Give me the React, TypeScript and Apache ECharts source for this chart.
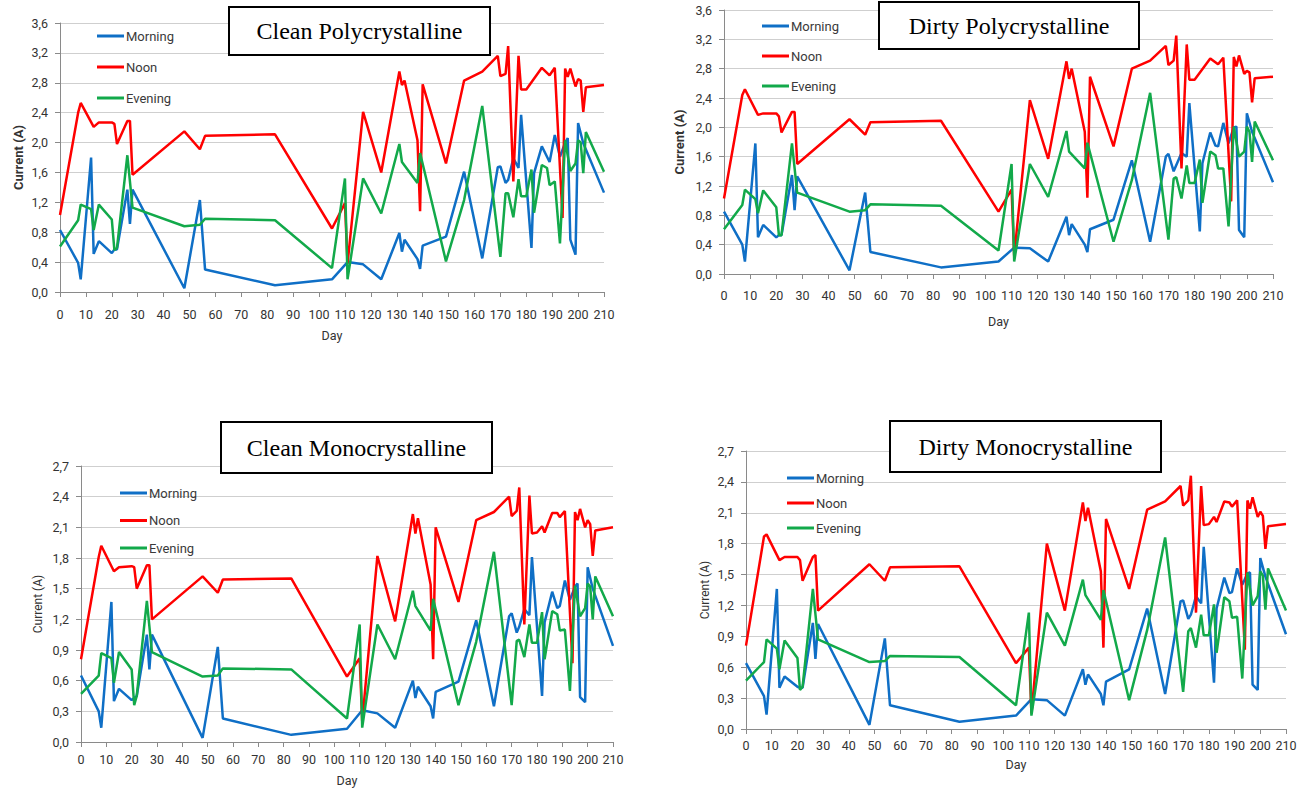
import React, { useEffect, useRef } from "react";
import * as echarts from "echarts";

const N = null;

const DAYS = [0, 7, 8, 12, 13, 15, 20, 21, 22, 26, 27, 28, 48, 54, 56, 83, 105, 110, 111, 117, 124, 131, 132, 133, 138, 139, 140, 149, 156, 163, 169, 170, 172, 173, 175, 177, 178, 180, 182, 183, 186, 188, 189, 191, 193, 194, 195, 196, 197, 199, 200, 201, 202, 203, 210];

const SERIES_NAMES = ["Morning", "Noon", "Evening"];

// Clean Polycrystalline
const cpMorning = [0.83, 0.39, 0.17, 1.80, 0.51, 0.68, 0.52, 0.57, 0.57, 1.37, 0.91, 1.37, 0.05, 1.23, 0.30, 0.09, 0.17, N, 0.40, 0.37, 0.17, 0.79, 0.54, 0.70, 0.44, 0.31, 0.62, 0.74, 1.61, 0.45, 1.67, 1.68, 1.46, 1.50, 1.79, 1.66, 2.37, N, 0.59, 1.59, 1.95, N, 1.74, 2.10, 1.81, N, 2.0, 2.06, 0.70, 0.50, 2.26, N, 1.99, N, 1.33];
const cpNoon = [1.03, 2.40, 2.53, N, 2.21, 2.27, 2.27, 2.25, 1.98, 2.29, 2.29, 1.57, 2.15, 1.91, 2.09, 2.11, 0.85, 1.19, 0.38, 2.41, 1.60, 2.95, 2.77, 2.83, 2.03, 1.08, 2.78, 1.72, 2.83, 2.95, 3.16, 2.89, 2.92, 3.29, 1.48, 3.16, 2.71, 2.71, N, N, 3.0, N, 2.9, 3.0, N, 0.99, 2.99, 2.88, 2.99, 2.75, 2.85, 2.83, 2.41, 2.74, 2.77];
const cpEvening = [0.61, 0.96, 1.17, 1.11, 0.83, 1.17, 0.97, 0.56, 0.59, 1.83, N, 1.13, 0.88, 0.90, 0.98, 0.96, 0.32, 1.52, 0.17, 1.52, 1.05, 1.98, 1.74, N, 1.46, 1.86, N, 0.41, 1.23, 2.49, N, 0.47, 1.32, 1.32, 1.0, 1.51, 1.28, 1.28, 1.64, 1.06, 1.70, 1.66, 1.43, 1.48, 0.65, N, 2.03, N, 1.62, 1.72, 2.03, 2.0, 1.59, 2.14, 1.61];

// Dirty Polycrystalline
const dpMorning = [0.85, 0.40, 0.17, 1.78, 0.50, 0.67, 0.50, 0.53, 0.53, 1.35, 0.87, 1.33, 0.05, 1.11, 0.30, 0.09, 0.17, N, 0.36, 0.35, 0.17, 0.78, 0.53, 0.68, 0.40, 0.30, 0.61, 0.74, 1.55, 0.44, 1.60, 1.64, 1.40, N, 1.65, 1.60, 2.33, N, 0.58, 1.51, 1.93, 1.75, 1.74, 2.06, 1.78, N, 2.0, 2.01, 0.60, 0.50, 2.19, N, 1.94, N, 1.25];
const dpNoon = [1.03, 2.44, 2.52, N, 2.17, 2.19, 2.19, 2.15, 1.93, 2.21, 2.21, 1.50, 2.11, 1.90, 2.07, 2.09, 0.85, 1.15, 0.25, 2.37, 1.57, 2.90, 2.66, 2.80, 1.94, 1.04, 2.69, 1.74, 2.80, 2.91, 3.11, 2.85, 2.91, 3.25, 1.44, 3.13, 2.65, 2.65, N, N, 2.94, N, 2.86, 2.95, N, 0.99, 2.96, 2.83, 2.98, 2.73, 2.77, 2.75, 2.34, 2.67, 2.69];
const dpEvening = [0.61, 0.94, 1.15, 1.02, 0.83, 1.14, 0.91, 0.53, 0.53, 1.78, N, 1.11, 0.85, 0.87, 0.95, 0.93, 0.32, 1.50, 0.17, 1.50, 1.05, 1.95, 1.67, N, 1.44, 1.79, N, 0.44, 1.28, 2.47, N, 0.47, 1.30, 1.32, 1.03, 1.48, 1.24, 1.24, 1.56, 0.97, 1.67, 1.62, 1.44, 1.44, 0.65, N, 2.01, N, 1.60, 1.67, 2.01, 1.94, 1.53, 2.08, 1.55];

// Clean Monocrystalline
const cmMorning = [0.65, 0.30, 0.14, 1.37, 0.40, 0.52, 0.41, 0.43, 0.45, 1.05, 0.71, 1.05, 0.04, 0.93, 0.23, 0.07, 0.13, N, 0.31, 0.28, 0.14, 0.60, 0.43, 0.54, 0.35, 0.23, 0.49, 0.59, 1.19, 0.35, 1.23, 1.26, 1.07, 1.13, 1.30, 1.24, 1.81, N, 0.45, 1.17, 1.47, 1.31, 1.33, 1.58, 1.39, N, 1.52, 1.55, 0.44, 0.39, 1.71, N, 1.50, N, 0.94];
const cmNoon = [0.81, 1.81, 1.92, N, 1.67, 1.71, 1.72, 1.71, 1.50, 1.73, 1.73, 1.20, 1.62, 1.46, 1.59, 1.60, 0.64, 0.82, 0.20, 1.82, 1.18, 2.23, 2.04, 2.19, 1.54, 0.81, 2.10, 1.37, 2.17, 2.25, 2.40, 2.21, 2.26, 2.49, 1.15, 2.41, 2.04, 2.05, 2.11, 2.05, 2.24, 2.24, 2.20, 2.26, N, 0.77, 2.25, 2.17, 2.28, 2.10, 2.17, 2.13, 1.82, 2.07, 2.10];
const cmEvening = [0.47, 0.65, 0.87, 0.82, 0.58, 0.88, 0.71, 0.36, 0.45, 1.38, N, 0.88, 0.64, 0.65, 0.72, 0.71, 0.23, 1.15, 0.14, 1.15, 0.81, 1.48, 1.33, N, 1.09, 1.40, N, 0.36, 0.98, 1.86, N, 0.36, 0.99, 1.0, 0.83, 1.15, 0.97, 0.97, 1.27, 0.81, 1.28, 1.25, 1.09, 1.10, 0.50, N, 1.53, N, 1.23, 1.31, 1.55, 1.52, 1.20, 1.62, 1.23];

// Dirty Monocrystalline
const dmMorning = [0.64, 0.32, 0.14, 1.36, 0.40, 0.51, 0.41, 0.40, 0.40, 1.03, 0.68, 1.02, 0.04, 0.88, 0.23, 0.07, 0.13, N, 0.29, 0.28, 0.13, 0.58, 0.43, 0.53, 0.34, 0.23, 0.46, 0.58, 1.17, 0.34, 1.24, 1.25, 1.07, 1.11, 1.29, 1.22, 1.77, N, 0.45, 1.17, 1.47, 1.32, 1.33, 1.56, 1.40, N, 1.51, 1.52, 0.43, 0.38, 1.66, N, 1.48, N, 0.92];
const dmNoon = [0.81, 1.87, 1.89, N, 1.64, 1.67, 1.67, 1.64, 1.44, 1.67, 1.69, 1.15, 1.60, 1.44, 1.57, 1.58, 0.64, 0.79, 0.15, 1.80, 1.15, 2.20, 2.02, 2.15, 1.53, 0.79, 2.04, 1.36, 2.13, 2.21, 2.36, 2.17, 2.22, 2.46, 1.13, 2.36, 1.98, 1.99, 2.06, 2.01, 2.21, 2.20, 2.16, 2.22, N, 0.77, 2.22, 2.14, 2.25, 2.06, 2.11, 2.07, 1.75, 1.97, 1.99];
const dmEvening = [0.47, 0.65, 0.87, 0.78, 0.58, 0.86, 0.69, 0.38, 0.41, 1.36, N, 0.87, 0.65, 0.66, 0.71, 0.70, 0.23, 1.13, 0.13, 1.13, 0.81, 1.45, 1.30, N, 1.06, 1.35, N, 0.28, 0.96, 1.86, N, 0.36, 0.95, 0.98, 0.79, 1.11, 0.91, 0.91, 1.21, 0.74, 1.28, 1.24, 1.08, 1.09, 0.49, N, 1.52, N, 1.20, 1.29, 1.53, 1.49, 1.16, 1.56, 1.15];

const COLORS = ["#0F6FC6", "#FF0000", "#12A94A"];

const PANELS = [
  {
    title: "Clean Polycrystalline",
    values: [cpMorning, cpNoon, cpEvening],
    grid: { left: 60, top: 23, width: 544, height: 269 },
    yMax: 3.6, yInt: 0.4,
    legend: { left: 97, top: 28, gap: 15 },
    box: { x: 229, y: 7, w: 261, h: 48 },
    xLabelMargin: 16, xNameGap: 37, yNameGap: 35, nameBold: true, nameSize: 13,
  },
  {
    title: "Dirty Polycrystalline",
    values: [dpMorning, dpNoon, dpEvening],
    grid: { left: 724, top: 10, width: 549, height: 264 },
    yMax: 3.6, yInt: 0.4,
    legend: { left: 762, top: 18, gap: 14 },
    box: { x: 879, y: 2, w: 260, h: 47 },
    xLabelMargin: 15, xNameGap: 41, yNameGap: 38, nameBold: true, nameSize: 13,
  },
  {
    title: "Clean Monocrystalline",
    values: [cmMorning, cmNoon, cmEvening],
    grid: { left: 81, top: 466, width: 532, height: 276 },
    yMax: 2.7, yInt: 0.3,
    legend: { left: 120, top: 485, gap: 11.5 },
    box: { x: 221, y: 422, w: 271, h: 51 },
    xLabelMargin: 11, xNameGap: 32, yNameGap: 37, nameBold: false, nameSize: 12,
  },
  {
    title: "Dirty Monocrystalline",
    values: [dmMorning, dmNoon, dmEvening],
    grid: { left: 746, top: 451, width: 540, height: 278 },
    yMax: 2.7, yInt: 0.3,
    legend: { left: 787, top: 470, gap: 9 },
    box: { x: 890, y: 421, w: 271, h: 51 },
    xLabelMargin: 10, xNameGap: 29, yNameGap: 35, nameBold: false, nameSize: 12,
  },
];

const FONT = "Roboto, 'Open Sans', sans-serif";

function buildOption() {
  const grids: any[] = [];
  const xAxes: any[] = [];
  const yAxes: any[] = [];
  const legends: any[] = [];
  const series: any[] = [];
  const graphics: any[] = [];

  PANELS.forEach((p, i) => {
    grids.push({ ...p.grid, containLabel: false });
    const axisLineStyle = { color: "#8a8a8a", width: 1 };
    xAxes.push({
      type: "value",
      gridIndex: i,
      min: 0,
      max: 210,
      interval: 10,
      name: "Day",
      nameLocation: "middle",
      nameGap: p.xNameGap,
      nameTextStyle: { fontFamily: FONT, fontSize: 12.5, color: "#333" },
      axisLine: { show: true, onZero: false, lineStyle: axisLineStyle },
      axisTick: { show: true, length: 5, lineStyle: axisLineStyle },
      axisLabel: { fontFamily: FONT, fontSize: 12.5, color: "#333", margin: p.xLabelMargin },
      splitLine: { show: false },
    });
    yAxes.push({
      type: "value",
      gridIndex: i,
      min: 0,
      max: p.yMax,
      interval: p.yInt,
      name: "Current (A)",
      nameLocation: "middle",
      nameGap: p.yNameGap,
      nameTextStyle: {
        fontFamily: FONT,
        fontSize: p.nameSize,
        fontWeight: p.nameBold ? "bold" : "normal",
        color: "#333",
      },
      axisLine: { show: true, lineStyle: axisLineStyle },
      axisTick: { show: true, length: 5, lineStyle: axisLineStyle },
      axisLabel: {
        fontFamily: FONT,
        fontSize: 12.5,
        color: "#333",
        margin: 12,
        formatter: (v: number) => v.toFixed(1).replace(".", ","),
      },
      splitLine: { show: true, lineStyle: { color: "#cfcfcf", width: 1 } },
    });
    legends.push({
      orient: "vertical",
      left: p.legend.left,
      top: p.legend.top,
      padding: 0,
      itemGap: p.legend.gap,
      itemWidth: 27,
      itemHeight: 3,
      icon: "rect",
      selectedMode: false,
      data: SERIES_NAMES,
      textStyle: { fontFamily: FONT, fontSize: 13, color: "#3a3a3a", lineHeight: 16, padding: [0, 0, 0, -3] },
    });
    p.values.forEach((arr, k) => {
      series.push({
        name: SERIES_NAMES[k],
        type: "line",
        xAxisIndex: i,
        yAxisIndex: i,
        showSymbol: false,
        symbol: "none",
        color: COLORS[k],
        lineStyle: { color: COLORS[k], width: 2.5 },
        data: DAYS.map((d, j) => [d, arr[j]]).filter((pt) => pt[1] !== null),
      });
    });
    graphics.push({
      type: "group",
      z: 100,
      children: [
        {
          type: "rect",
          shape: { x: p.box.x, y: p.box.y, width: p.box.w, height: p.box.h },
          style: { fill: "#fff", stroke: "#000", lineWidth: 2 },
          z: 100,
        },
        {
          type: "text",
          x: p.box.x + p.box.w / 2,
          y: p.box.y + p.box.h / 2,
          z: 101,
          style: {
            text: p.title,
            fill: "#000",
            font: "24px 'Liberation Serif', 'Times New Roman', serif",
            textAlign: "center",
            textVerticalAlign: "middle",
          },
        },
      ],
    });
  });

  return {
    animation: false,
    backgroundColor: "#fff",
    grid: grids,
    xAxis: xAxes,
    yAxis: yAxes,
    legend: legends,
    series,
    graphic: graphics,
  };
}

export default function App() {
  const ref = useRef<HTMLDivElement>(null);
  useEffect(() => {
    if (!ref.current) return;
    const chart = echarts.init(ref.current, null, { renderer: "svg" });
    chart.setOption(buildOption());
    return () => chart.dispose();
  }, []);
  return (
    <div
      ref={ref}
      style={{ position: "absolute", left: 0, top: 0, width: 1311, height: 792, background: "#fff" }}
    />
  );
}
